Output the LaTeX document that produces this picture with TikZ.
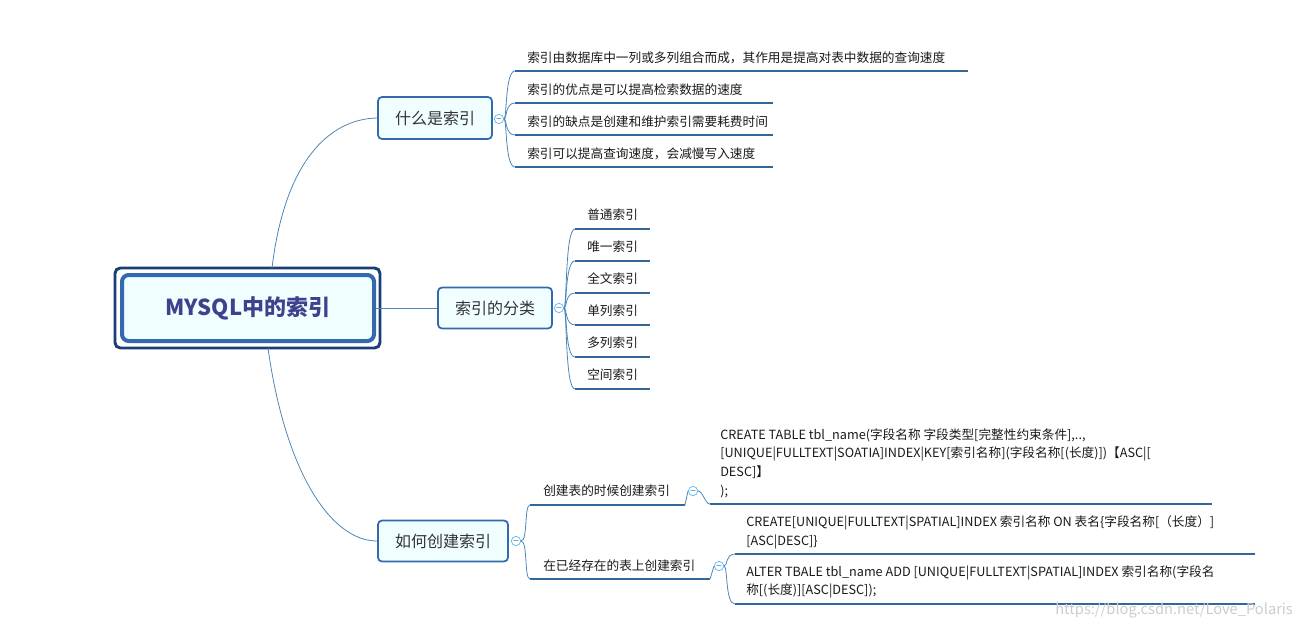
\documentclass[tikz,border=0pt]{standalone}
\usepackage{fontspec}
\setmainfont{Noto Sans CJK SC}
\begin{document}
\begin{tikzpicture}[x=0.75pt,y=-0.75pt,
  conn/.style={draw=blue!45!cyan!60!black!70, line width=0.6pt},
  ul/.style={draw=blue!50!cyan!50!black!80, line width=1.8pt},
  topic/.style={draw=blue!55!cyan!60!black!80, line width=1.3pt, fill=blue!8!cyan!6, rounded corners=3pt, font=\fontsize{12}{14}\selectfont, text=black!80},
  leaf/.style={anchor=west, font=\fontsize{9.5}{14}\selectfont, inner sep=0pt, text=black!90},
  code/.style={anchor=north west, font=\fontsize{9.5}{14.2}\selectfont, inner sep=0pt, align=left, text=black!90},
  tog/.style={circle, draw=blue!40!cyan!70, line width=0.5pt, minimum size=7pt, inner sep=0pt, fill=white}]
\useasboundingbox (0,0) rectangle (1303,628);
% root
\draw[draw=blue!60!cyan!40!black!90, line width=2.2pt, rounded corners=4pt] (115,268) rectangle (380,348);
\node[draw=blue!55!cyan!60!black!80, line width=3pt, fill=blue!8!cyan!6, rounded corners=5pt, minimum width=252*0.75pt, minimum height=66*0.75pt] (root) at (248,308) {\fontsize{16.5}{18}\selectfont\bfseries\color{blue!40!black!75}MYSQL中的索引};
% topics
\node[topic, minimum width=114*0.75pt, minimum height=42*0.75pt] (t1) at (435,118) {什么是索引};
\node[topic, minimum width=114*0.75pt, minimum height=41*0.75pt] (t2) at (495,308) {索引的分类};
\node[topic, minimum width=130*0.75pt, minimum height=41*0.75pt] (t3) at (443,541) {如何创建索引};
\coordinate (r1) at (272,268); \coordinate (r3) at (268,348);
\draw[conn] (r1) .. controls (285,160) and (330,119) .. (t1.west);
\draw[conn] (root.east) -- (t2.west);
\draw[conn] (r3) .. controls (285,470) and (330,541) .. (t3.west);
% toggles
\node[tog] (g1) at (499,119) {\tiny$-$};
\node[tog] (g2) at (559,308) {\tiny$-$};
\node[tog] (g3) at (516,541) {\tiny$-$};
\node[tog] (g4) at (693,491) {\tiny$-$};
\node[tog] (g5) at (719,566) {\tiny$-$};
% t1 leaves
\foreach \i/\y/\xe/\t in {a/71/968/{索引由数据库中一列或多列组合而成，其作用是提高对表中数据的查询速度},
  b/103/773/{索引的优点是可以提高检索数据的速度},
  c/135/773/{索引的缺点是创建和维护索引需要耗费时间},
  d/167/773/{索引可以提高查询速度，会减慢写入速度}}{
  \coordinate (s\i) at (515,\y); \coordinate (e\i) at (\xe,\y);
  \draw[ul] (s\i) -- (e\i);
  \node[leaf] (l\i) at (527,\y-13) {\t};
  \draw[conn] (g1.east) .. controls (507,119) and (505,\y) .. (s\i);
}
% t2 leaves
\foreach \i/\y/\t in {a/229/普通索引, b/261/唯一索引, c/293/全文索引, d/325/单列索引, e/357/多列索引, f/389/空间索引}{
  \coordinate (u\i) at (575,\y); \coordinate (v\i) at (650,\y);
  \draw[ul] (u\i) -- (v\i);
  \node[leaf] (m\i) at (587,\y-14) {\t};
  \draw[conn] (g2.east) .. controls (567,308) and (565,\y) .. (u\i);
}
% t3 children
\coordinate (p1) at (530,505); \coordinate (q1) at (685,505);
\coordinate (p2) at (530,579); \coordinate (q2) at (710,579);
\draw[ul] (p1) -- (q1); \draw[ul] (p2) -- (q2);
\node[leaf] (c1) at (543,491) {创建表的时候创建索引};
\node[leaf] (c2) at (543,566) {在已经存在的表上创建索引};
\draw[conn] (g3.east) .. controls (528,541) and (524,505) .. (p1);
\draw[conn] (g3.east) .. controls (528,541) and (524,579) .. (p2);
\draw[conn] (q1) -- (g4.west);
\draw[conn] (q2) -- (g5.west);
% code 1
\coordinate (k1) at (710,504); \coordinate (k1e) at (1212,504);
\draw[ul] (k1) -- (k1e);
\draw[conn] (g4.east) .. controls (703,491) and (705,504) .. (k1);
\node[code] (x1) at (720,428) {CREATE TABLE tbl\_name(字段名称 字段类型[完整性约束条件],..,\\{}%
[UNIQUE|FULLTEXT|SOATIA]INDEX|KEY[索引名称](字段名称[(长度)])【ASC|[\\{}%
DESC]】\\{});};
% code 2
\coordinate (k2) at (735,554); \coordinate (k2e) at (1255,554);
\coordinate (k3) at (735,604); \coordinate (k3e) at (1255,604);
\draw[ul] (k2) -- (k2e); \draw[ul] (k3) -- (k3e);
\draw[conn] (g5.east) .. controls (728,566) and (725,554) .. (k2);
\draw[conn] (g5.east) .. controls (728,566) and (725,604) .. (k3);
\node[code] (x2) at (746,515) {CREATE[UNIQUE|FULLTEXT|SPATIAL]INDEX 索引名称 ON 表名\{字段名称[（长度）]\\{}[ASC|DESC]\}};
\node[code] (x3) at (746,565) {ALTER TBALE tbl\_name ADD [UNIQUE|FULLTEXT|SPATIAL]INDEX 索引名称(字段名\\{}称[(长度)][ASC|DESC]);};
\node[anchor=west, inner sep=0pt, font=\fontsize{11}{12}\selectfont, text=black!20] (wm) at (1055,610) {https://blog.csdn.net/Love\_Polaris};
\end{tikzpicture}
\end{document}
